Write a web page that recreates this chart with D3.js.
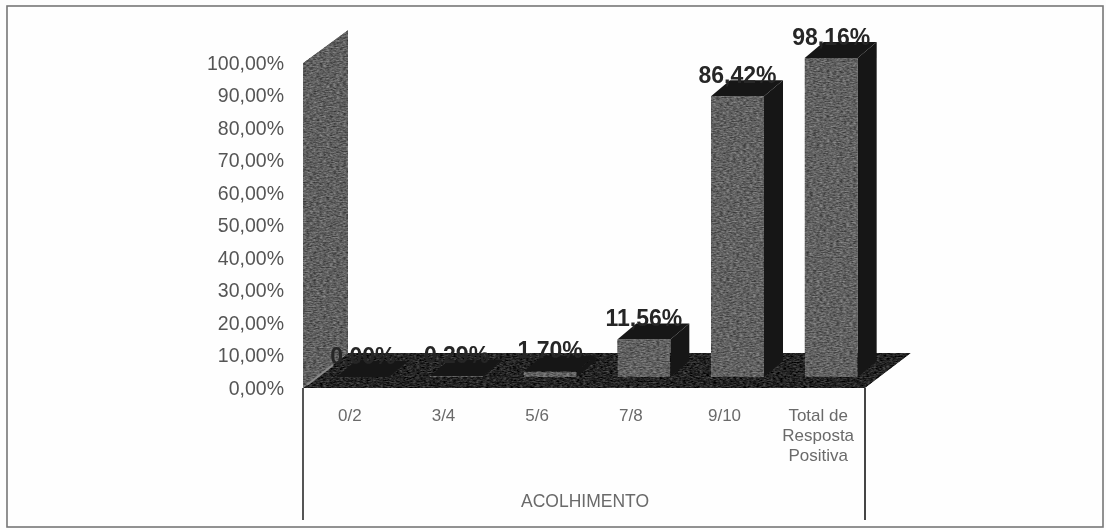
<!DOCTYPE html>
<html>
<head>
<meta charset="utf-8">
<script src="https://cdnjs.cloudflare.com/ajax/libs/d3/7.8.5/d3.min.js"></script>
<style>
  html, body { margin: 0; padding: 0; background: #fdfdfd; }
  svg { display: block; font-family: "Liberation Sans", Arial, sans-serif; }
</style>
</head>
<body>
<script>
const categories = ["0/2", "3/4", "5/6", "7/8", "9/10", "Total de|Resposta|Positiva"];
const values = [0, 0.29, 1.70, 11.56, 86.42, 98.16];
const valueLabels = ["0,00%", "0,29%", "1,70%", "11,56%", "86,42%", "98,16%"];
const yTicks = [0, 10, 20, 30, 40, 50, 60, 70, 80, 90, 100];
const groupLabel = "ACOLHIMENTO";

const width = 1106, height = 530;
const floorY = 388, barBaseShift = 11, barShiftX = 13;
const wallDx = 45, wallDy = 35, barDx = 19, barDy = 16, barW = 53;

const svg = d3.select("body").append("svg")
    .attr("width", width)
    .attr("height", height);

// scanned look: grainy fill and a little blur over everything
const defs = svg.append("defs");
const grain = defs.append("filter")
    .attr("id", "grain")
    .attr("filterUnits", "userSpaceOnUse")
    .attr("x", 0).attr("y", 0).attr("width", width).attr("height", height)
    .attr("color-interpolation-filters", "sRGB");
grain.append("feTurbulence")
    .attr("type", "fractalNoise")
    .attr("baseFrequency", "0.3 0.8")
    .attr("numOctaves", 2)
    .attr("seed", 4)
    .attr("result", "noise");
grain.append("feColorMatrix")
    .attr("in", "noise")
    .attr("type", "matrix")
    .attr("values", "1 0 0 0 0  1 0 0 0 0  1 0 0 0 0  0 0 0 0 1")
    .attr("result", "gray");
grain.append("feComposite")
    .attr("in", "SourceGraphic")
    .attr("in2", "gray")
    .attr("operator", "arithmetic")
    .attr("k1", 0).attr("k2", 1).attr("k3", 0.5).attr("k4", -0.25)
    .attr("result", "mixed");
grain.append("feComposite")
    .attr("in", "mixed")
    .attr("in2", "SourceAlpha")
    .attr("operator", "in");

defs.append("filter")
    .attr("id", "soft")
    .attr("filterUnits", "userSpaceOnUse")
    .attr("x", 0).attr("y", 0).attr("width", width).attr("height", height)
    .append("feGaussianBlur")
    .attr("stdDeviation", 0.75);

const page = svg.append("g").attr("filter", "url(#soft)");

const x = d3.scaleBand().domain(categories).range([303, 865]);
const y = d3.scaleLinear().domain([0, 100]).range([floorY, 63]);

const poly = pts => pts.map(p => p.join(",")).join(" ");

// outer frame
page.append("rect")
    .attr("x", 7).attr("y", 6)
    .attr("width", 1096).attr("height", 521)
    .attr("fill", "#fefefe")
    .attr("stroke", "#777")
    .attr("stroke-width", 1.6);

// back wall
page.append("polygon")
    .attr("points", poly([
        [303, y(100)], [303 + wallDx, y(100) - wallDy + 2],
        [303 + wallDx, floorY - wallDy], [303, floorY]
    ]))
    .attr("fill", "#5f5f5f")
    .attr("filter", "url(#grain)");

// floor
page.append("polygon")
    .attr("points", poly([
        [303, floorY], [865, floorY],
        [865 + wallDx + 1, floorY - wallDy], [303 + wallDx, floorY - wallDy]
    ]))
    .attr("fill", "#242424")
    .attr("filter", "url(#grain)");

// lighter seam where wall meets floor
page.append("path")
    .attr("d", d3.line()([[307, floorY - 3], [333, floorY - 23]]))
    .attr("stroke", "#8a8a8a").attr("stroke-width", 2);

// category box under the floor
const boxBottom = 520;
page.append("path")
    .attr("d", d3.line()([[303, floorY], [303, boxBottom]]))
    .attr("stroke", "#555").attr("stroke-width", 2);
page.append("path")
    .attr("d", d3.line()([[865, floorY], [865, boxBottom]]))
    .attr("stroke", "#444").attr("stroke-width", 2);

// y axis
const yAxis = d3.axisLeft(y)
    .tickValues(yTicks)
    .tickSize(0)
    .tickPadding(19)
    .tickFormat(d => d3.format(".2f")(d).replace(".", ",") + "%");
const yG = page.append("g")
    .attr("transform", "translate(303,0)")
    .call(yAxis);
yG.select(".domain").remove();
yG.selectAll("text")
    .attr("font-family", "Liberation Sans")
    .attr("font-size", 19.5)
    .attr("fill", "#555");

// bars
const bars = page.selectAll("g.bar")
    .data(categories)
    .enter().append("g")
    .attr("class", "bar");

const left = d => x(d) + x.bandwidth() / 2 + barShiftX - barW / 2;
const topY = (d, i) => y(values[i]) - barBaseShift;
const baseY = floorY - barBaseShift;

bars.append("polygon")
    .attr("points", (d, i) => poly([
        [left(d) + barW, topY(d, i)], [left(d) + barW + barDx, topY(d, i) - barDy],
        [left(d) + barW + barDx, baseY - barDy], [left(d) + barW, baseY]
    ]))
    .attr("fill", "#141414");

bars.append("polygon")
    .attr("points", (d, i) => poly([
        [left(d), topY(d, i)], [left(d) + barDx, topY(d, i) - barDy],
        [left(d) + barW + barDx, topY(d, i) - barDy], [left(d) + barW, topY(d, i)]
    ]))
    .attr("fill", "#181818");

bars.append("rect")
    .attr("x", d => left(d))
    .attr("y", topY)
    .attr("width", barW)
    .attr("height", (d, i) => baseY - topY(d, i))
    .attr("fill", "#616161")
    .attr("filter", "url(#grain)");

// value labels sit on the back edge of each bar top
page.selectAll("text.value")
    .data(categories)
    .enter().append("text")
    .attr("class", "value")
    .attr("x", d => left(d) + barW / 2)
    .attr("y", (d, i) => topY(d, i) - barDy + 3)
    .attr("text-anchor", "middle")
    .attr("font-size", 23)
    .attr("font-weight", "bold")
    .attr("fill", "#262626")
    .text((d, i) => valueLabels[i]);

// category labels
const catLabels = page.selectAll("text.cat")
    .data(categories)
    .enter().append("text")
    .attr("class", "cat")
    .attr("text-anchor", "middle")
    .attr("font-size", 17)
    .attr("fill", "#6a6a6a");
catLabels.each(function (d) {
    d3.select(this).selectAll("tspan")
        .data(d.split("|"))
        .enter().append("tspan")
        .attr("x", x(d) + x.bandwidth() / 2)
        .attr("y", (l, j) => 421 + j * 20)
        .text(l => l);
});

page.append("text")
    .attr("x", 585)
    .attr("y", 507)
    .attr("text-anchor", "middle")
    .attr("font-size", 17.5)
    .attr("fill", "#6a6a6a")
    .text(groupLabel);
</script>
</body>
</html>
